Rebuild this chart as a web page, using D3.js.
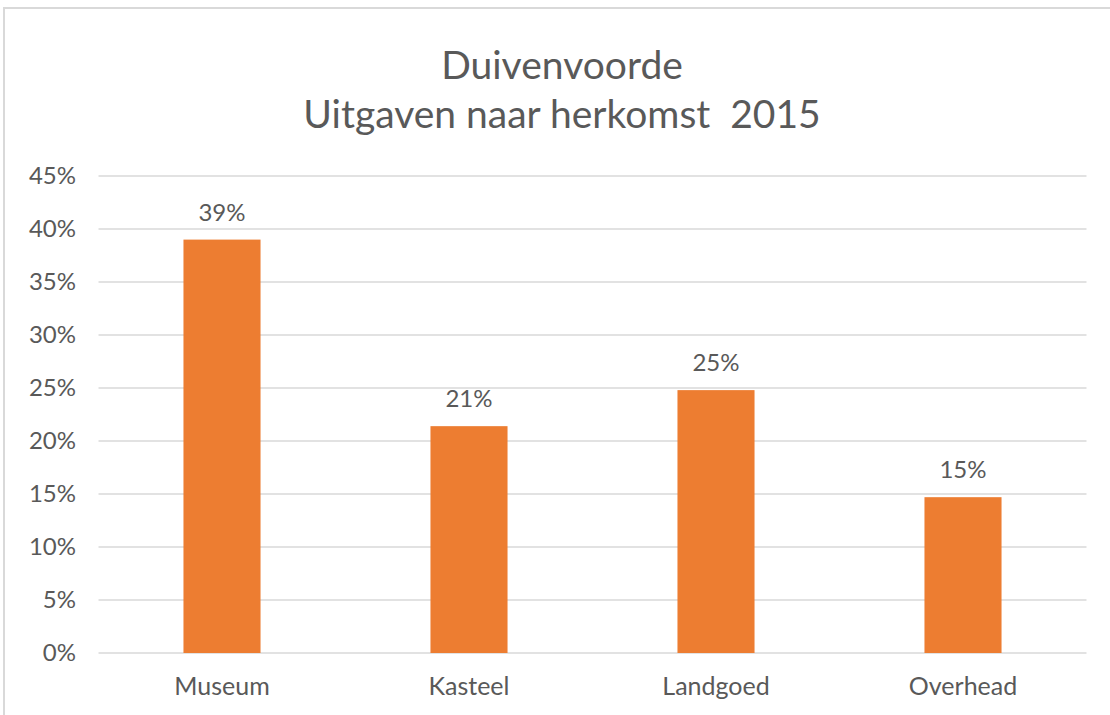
<!DOCTYPE html>
<html><head><meta charset="utf-8">
<script src="https://cdn.jsdelivr.net/npm/d3@7"></script>
<style>html,body{margin:0;padding:0;background:#fff;overflow:hidden}</style>
</head><body>
<svg id="c" width="1110" height="715"></svg>
<script>
const categories = ["Museum", "Kasteel", "Landgoed", "Overhead"];
const values = [0.39, 0.214, 0.248, 0.147];
const labels = ["39%", "21%", "25%", "15%"];
const yTicks = [0, 0.05, 0.10, 0.15, 0.20, 0.25, 0.30, 0.35, 0.40, 0.45];
const titleLines = ["Duivenvoorde", "Uitgaven naar herkomst  2015"];

const svg = d3.select("#c");
const font = "Lato, 'Open Sans', sans-serif";
const textColor = "#595959";

svg.append("rect").attr("x", 4).attr("y", 8).attr("width", 1130).attr("height", 730)
  .attr("fill", "#fff").attr("stroke", "#d9d9d9").attr("stroke-width", 2);

const x = d3.scaleBand().domain(categories).range([98.5, 1086.5]).padding(0);
const y = d3.scaleLinear().domain([0, 0.45]).range([653, 176]);

svg.append("g").selectAll("line").data(yTicks).join("line")
  .attr("x1", 98.5).attr("x2", 1086.5)
  .attr("y1", d => y(d)).attr("y2", d => y(d))
  .attr("stroke", "#d9d9d9").attr("stroke-width", 1.5);

const yAxis = d3.axisLeft(y).tickValues(yTicks).tickFormat(d3.format(".0%")).tickSize(0).tickPadding(0);
const gy = svg.append("g").attr("transform", "translate(76,0)").call(yAxis);
gy.select(".domain").remove();
gy.selectAll("text").attr("font-family", font).attr("font-size", 24).attr("fill", textColor);

const xAxis = d3.axisBottom(x).tickSize(0).tickPadding(0);
const gx = svg.append("g").attr("transform", "translate(0,677)").call(xAxis);
gx.select(".domain").remove();
gx.selectAll("text").attr("font-family", font).attr("font-size", 25).attr("fill", textColor);

const bw = x.bandwidth() * 0.312;
svg.append("g").selectAll("rect").data(values).join("rect")
  .attr("x", (d, i) => x(categories[i]) + x.bandwidth() / 2 - bw / 2)
  .attr("width", bw)
  .attr("y", d => y(d))
  .attr("height", d => y(0) - y(d))
  .attr("fill", "#ed7d31");

svg.append("g").selectAll("text").data(values).join("text")
  .attr("x", (d, i) => x(categories[i]) + x.bandwidth() / 2)
  .attr("y", d => y(d) - 19)
  .attr("text-anchor", "middle")
  .attr("font-family", font).attr("font-size", 24).attr("fill", textColor)
  .text((d, i) => labels[i]);

svg.append("g").selectAll("text").data(titleLines).join("text")
  .attr("x", 562).attr("y", (d, i) => 79 + i * 49)
  .attr("text-anchor", "middle")
  .attr("font-family", font).attr("font-size", 39).attr("fill", textColor)
  .attr("xml:space", "preserve").style("white-space", "pre")
  .text(d => d);
</script>
</body></html>
